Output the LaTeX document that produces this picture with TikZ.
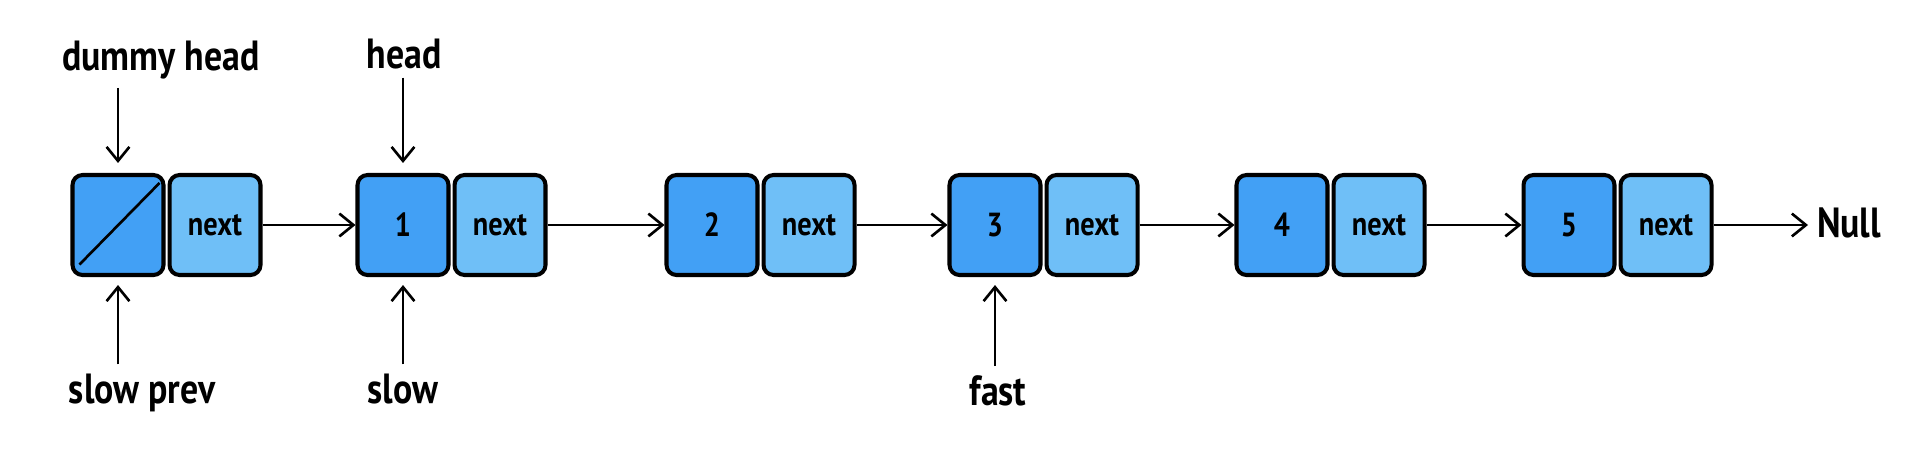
\documentclass[tikz,border=0pt]{standalone}
\usepackage{fontspec}
\setmainfont{PT Sans}[FakeStretch=0.85]
\usepackage{tikz}
\usepackage{xcolor}
\usetikzlibrary{arrows.meta, positioning}
\definecolor{valblue}{HTML}{42A0F5}
\definecolor{nextblue}{HTML}{6FBFF7}
\tikzset{
    valbox/.style={draw, line width=2.3pt, rounded corners=0.2cm, fill=valblue,
        minimum width=1.82cm, minimum height=2cm, inner sep=0pt,
        font=\fontsize{19}{21}\selectfont\bfseries},
    nextbox/.style={valbox, fill=nextblue},
    lbl/.style={anchor=base, inner sep=5pt, font=\fontsize{24}{26}\selectfont\bfseries},
    ptr/.style={-{Straight Barb[length=8pt,width=13pt,line width=1.5pt]}, line width=1.5pt},
    }
\newcommand{\listnode}[3]{
    \node[valbox] (#1) at (#2, 225) {#3};
    \node[nextbox, right=0.04cm of #1] (#1n) {next};
    }

\begin{document}
\begin{tikzpicture}[x=0.02cm, y=-0.02cm]
    \useasboundingbox (0,0) rectangle (1908,454);
    % the list
    \listnode{d0}{118}{}
    \draw[line width=1.5pt] ([shift={(0.18cm,0.25cm)}]d0.south west) -- ([shift={(-0.12cm,-0.2cm)}]d0.north east);
    \listnode{d1}{403}{1}
    \listnode{d2}{712}{2}
    \listnode{d3}{995}{3}
    \listnode{d4}{1282}{4}
    \listnode{d5}{1569}{5}
    \node[lbl, anchor=base west] (null) at (1808, 237) {Null};
    \draw[ptr] (d0n.east) -- (d1.west);
    \draw[ptr] (d1n.east) -- (d2.west);
    \draw[ptr] (d2n.east) -- (d3.west);
    \draw[ptr] (d3n.east) -- (d4.west);
    \draw[ptr] (d4n.east) -- (d5.west);
    \draw[ptr] (d5n.east) -- (d5n.east -| null.west);
    % pointers
    \node[lbl] (dummy) at (161, 70) {dummy head};
    \node[lbl] (head) at (404, 68) {head};
    \node[lbl] (slowprev) at (142, 403) {slow prev};
    \node[lbl] (slow) at (403, 403) {slow};
    \node[lbl] (fast) at (998, 405) {fast};
    \draw[ptr, shorten >=0.2cm] (dummy.south -| d0.north) -- (d0.north);
    \draw[ptr, shorten >=0.2cm] (head.south -| d1.north) -- (d1.north);
    \draw[ptr, shorten >=0.16cm] (slowprev.north -| d0.south) -- (d0.south);
    \draw[ptr, shorten >=0.16cm] (slow.north -| d1.south) -- (d1.south);
    \draw[ptr, shorten >=0.16cm] (fast.north -| d3.south) -- (d3.south);
\end{tikzpicture}
\end{document}
